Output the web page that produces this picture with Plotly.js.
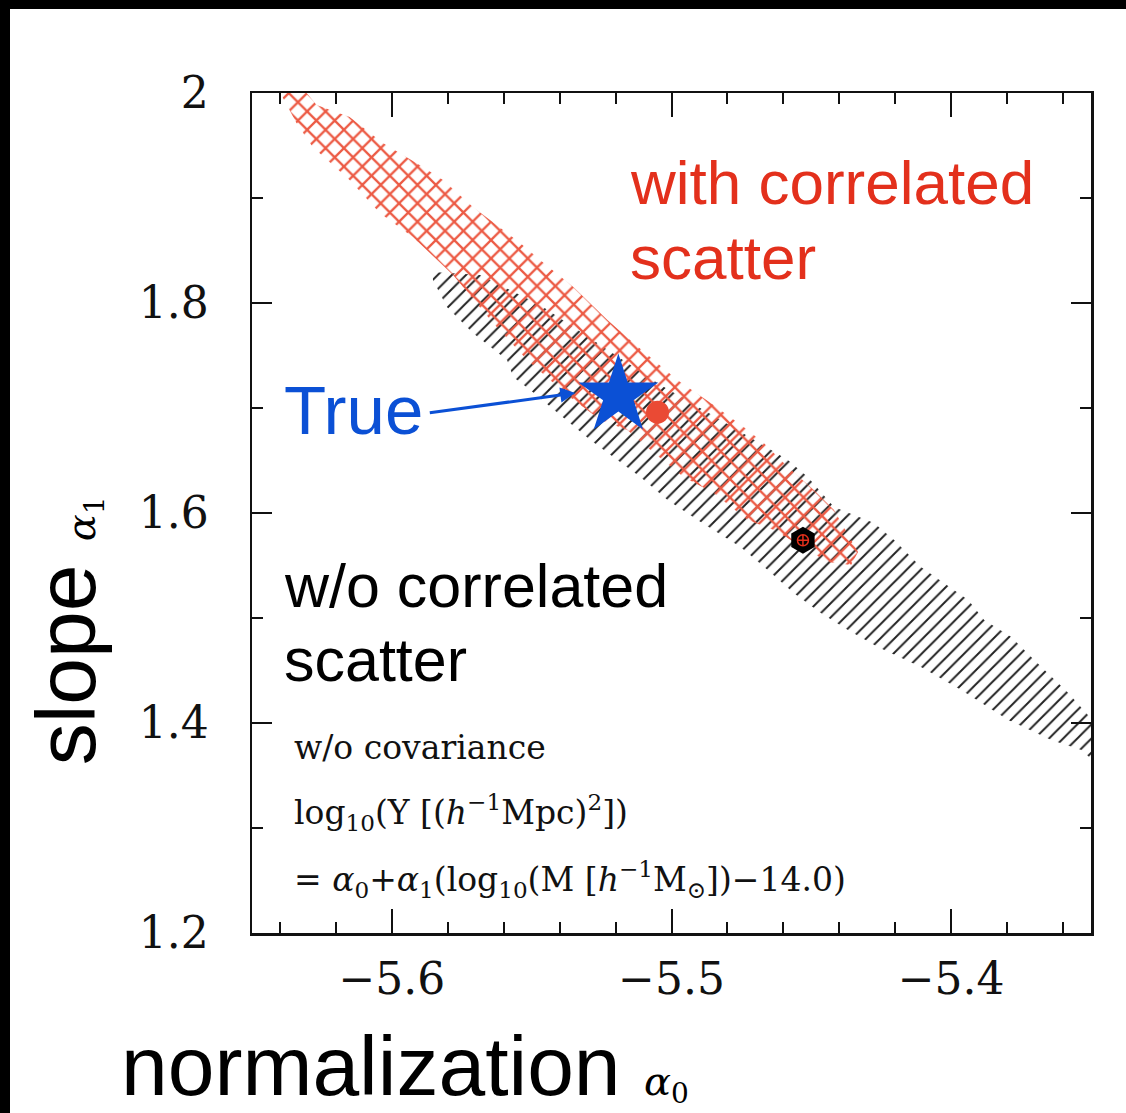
<!DOCTYPE html>
<html><head><meta charset="utf-8">
<script src="https://cdn.plot.ly/plotly-3.0.1.min.js"></script>
<style>
html,body{margin:0;padding:0;background:#fff;}
#frame{position:absolute;left:0;top:0;width:1116px;height:1104px;border-top:9px solid #000;border-left:10px solid #000;background:#fff;}
#chart{width:1116px;height:1104px;}
</style></head><body>
<div id="frame"><div id="chart"></div></div>
<script>
// Confidence region WITH correlated scatter (red cross-hatch)
const redBandX = [-5.6391,-5.6305,-5.6269,-5.6151,-5.6032,-5.5889,-5.5817,-5.5710,-5.5541,-5.5470,-5.5351,-5.5229,-5.5136,-5.4979,-5.4860,-5.4742,-5.4670,-5.4584,-5.4491,-5.4419,-5.4333,-5.4358,-5.4441,-5.4513,-5.4634,-5.4728,-5.4849,-5.4957,-5.5075,-5.5158,-5.5254,-5.5373,-5.5516,-5.5638,-5.5781,-5.5864,-5.5925,-5.6043,-5.6151,-5.6283,-5.6341,-5.6391];
const redBandY = [2.0000,2.0000,1.9886,1.9771,1.9524,1.9295,1.9171,1.8914,1.8571,1.8410,1.8152,1.7838,1.7619,1.7267,1.7048,1.6819,1.6667,1.6438,1.6219,1.6029,1.5629,1.5505,1.5533,1.5648,1.5838,1.5933,1.6190,1.6343,1.6600,1.6790,1.6886,1.7124,1.7457,1.7810,1.8267,1.8476,1.8629,1.8857,1.9171,1.9486,1.9714,1.9962];
// Confidence region WITHOUT correlated scatter (black hatch)
const blackBandX = [-5.5853,-5.5685,-5.5470,-5.5254,-5.5039,-5.4824,-5.4584,-5.4513,-5.4419,-5.4276,-5.4204,-5.4108,-5.3939,-5.3882,-5.3785,-5.3703,-5.3581,-5.3495,-5.3495,-5.3534,-5.3642,-5.3796,-5.3964,-5.4108,-5.4262,-5.4369,-5.4466,-5.4563,-5.4656,-5.4753,-5.4835,-5.4907,-5.5014,-5.5111,-5.5208,-5.5290,-5.5398,-5.5505,-5.5566,-5.5588,-5.5710,-5.5803,-5.5853];
const blackBandY = [1.8295,1.8267,1.7981,1.7600,1.7219,1.6886,1.6505,1.6343,1.6057,1.5905,1.5743,1.5486,1.5171,1.4981,1.4819,1.4600,1.4286,1.4029,1.3648,1.3743,1.3838,1.4029,1.4314,1.4533,1.4724,1.4886,1.5048,1.5238,1.5457,1.5676,1.5810,1.5933,1.6124,1.6343,1.6533,1.6695,1.6933,1.7171,1.7295,1.7457,1.7714,1.7962,1.8219];
// Points
const trueX = [-5.519], trueY = [1.712];
const withCorrX = [-5.505], withCorrY = [1.696];
const withoutCorrX = [-5.453], withoutCorrY = [1.574];

const RED = '#e3301c', BLUE = '#0b50d5';

const traces = [
  {type:'scatter', mode:'lines', x:blackBandX, y:blackBandY, fill:'toself',
   line:{width:0, color:'rgba(0,0,0,0)'}, fillcolor:'rgba(0,0,0,0)',
   fillpattern:{shape:'/', fgcolor:'#222', bgcolor:'rgba(0,0,0,0)', size:10, solidity:0.2},
   hoverinfo:'skip'},
  {type:'scatter', mode:'lines', x:redBandX, y:redBandY, fill:'toself',
   line:{width:0, color:'rgba(0,0,0,0)'}, fillcolor:'rgba(0,0,0,0)',
   fillpattern:{shape:'x', fgcolor:'#ec5a44', bgcolor:'rgba(0,0,0,0)', size:13, solidity:0.32},
   hoverinfo:'skip'},
  {type:'scatter', mode:'markers', x:withoutCorrX, y:withoutCorrY,
   marker:{symbol:'hexagon', size:27, color:'#000'}},
  {type:'scatter', mode:'markers', x:withoutCorrX, y:withoutCorrY,
   marker:{symbol:'circle-cross-open', size:11, color:RED, line:{width:1.5, color:RED}}},
  {type:'scatter', mode:'markers', x:withCorrX, y:withCorrY,
   marker:{symbol:'circle', size:23, color:'#ea4a34'}},
  {type:'scatter', mode:'markers', x:trueX, y:trueY,
   marker:{symbol:'star', size:60, color:BLUE}}
];

const SANS = 'Liberation Sans, Arial, sans-serif';
const SERIF = 'DejaVu Serif, serif';

const layout = {
  width:1116, height:1104,
  margin:{l:242, r:35, t:84, b:180},
  paper_bgcolor:'#fff', plot_bgcolor:'#fff',
  showlegend:false, hovermode:false,
  xaxis:{range:[-5.65,-5.35], tick0:-5.6, dtick:0.1, ticks:'inside', ticklen:24, tickwidth:2, tickcolor:'#111',
         minor:{dtick:0.02, ticks:'inside', ticklen:11, tickwidth:2, tickcolor:'#111'},
         showline:true, linewidth:2.5, linecolor:'#111', mirror:'ticks', showgrid:false, zeroline:false,
         tickfont:{family:SERIF, size:44, color:'#111'}, ticklabelstandoff:6},
  yaxis:{range:[1.2,2.0], tick0:1.2, dtick:0.2, ticks:'inside', ticklen:20, tickwidth:2, tickcolor:'#111',
         minor:{dtick:0.1, ticks:'inside', ticklen:11, tickwidth:2, tickcolor:'#111'},
         showline:true, linewidth:2.5, linecolor:'#111', mirror:'ticks', showgrid:false, zeroline:false,
         tickfont:{family:SERIF, size:44, color:'#111'}, ticklabelstandoff:32},
  annotations:[
    {xref:'paper', yref:'paper', x:-0.158, y:-0.158, xanchor:'left', yanchor:'middle', showarrow:false,
     text:'normalization <span style="font-family:DejaVu Serif;font-size:40px"><i>α</i><sub>0</sub></span>',
     font:{family:SANS, size:84, color:'#000'}},
    {xref:'paper', yref:'paper', x:-0.222, y:0.36, xanchor:'center', yanchor:'middle', showarrow:false, textangle:-90,
     text:'slope <span style="font-family:DejaVu Serif;font-size:40px"><i>α</i><sub>1</sub></span>',
     font:{family:SANS, size:84, color:'#000'}},
    {xref:'paper', yref:'paper', x:0.4482, y:0.894, xanchor:'left', yanchor:'middle', showarrow:false,
     text:'with correlated', font:{family:SANS, size:62, color:RED}},
    {xref:'paper', yref:'paper', x:0.4482, y:0.8036, xanchor:'left', yanchor:'middle', showarrow:false,
     text:'scatter', font:{family:SANS, size:62, color:RED}},
    {xref:'paper', yref:'paper', x:0.1204, y:0.6226, xanchor:'center', yanchor:'middle', showarrow:false,
     text:'True', font:{family:SANS, size:69, color:BLUE}},
    {xref:'x', yref:'y', x:-5.5344, y:1.7143, ax:-147, ay:20, showarrow:true, text:'',
     arrowcolor:BLUE, arrowwidth:3, arrowhead:2, arrowsize:1},
    {xref:'paper', yref:'paper', x:0.0358, y:0.4131, xanchor:'left', yanchor:'middle', showarrow:false,
     text:'w/o correlated', font:{family:SANS, size:61, color:'#000'}},
    {xref:'paper', yref:'paper', x:0.0358, y:0.3250, xanchor:'left', yanchor:'middle', showarrow:false,
     text:'scatter', font:{family:SANS, size:61, color:'#000'}},
    {xref:'paper', yref:'paper', x:0.0477, y:0.2214, xanchor:'left', yanchor:'middle', showarrow:false,
     text:'w/o covariance', font:{family:SERIF, size:33, color:'#111'}},
    {xref:'paper', yref:'paper', x:0.0477, y:0.1440, xanchor:'left', yanchor:'middle', showarrow:false,
     text:'log<sub>10</sub>(Y [(<i>h</i><sup>−1</sup>Mpc)<sup>2</sup>])', font:{family:SERIF, size:33, color:'#111'}},
    {xref:'paper', yref:'paper', x:0.0477, y:0.0631, xanchor:'left', yanchor:'middle', showarrow:false,
     text:'= <i>α</i><sub>0</sub>+<i>α</i><sub>1</sub>(log<sub>10</sub>(M [<i>h</i><sup>−1</sup>M<sub>⊙</sub>])−14.0)', font:{family:SERIF, size:33, color:'#111'}}
  ]
};

Plotly.newPlot('chart', traces, layout, {staticPlot:true, displayModeBar:false});
</script>
</body></html>
